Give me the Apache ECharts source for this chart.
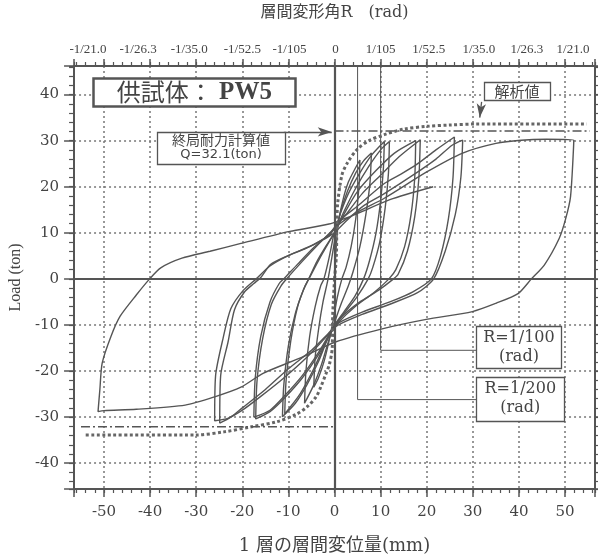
<!DOCTYPE html>
<html><head><meta charset="utf-8">
<script src="https://cdn.jsdelivr.net/npm/echarts@6/dist/echarts.min.js"></script>
<style>html,body{margin:0;padding:0;background:#fff}#c{width:598px;height:560px}</style>
</head><body><div id="c"></div>
<script>
// ---------------- data ----------------
const xTickValues = [-50,-40,-30,-20,-10,0,10,20,30,40,50];
const topTickLabels = ['-1/21.0','-1/26.3','-1/35.0','-1/52.5','-1/105','0','1/105','1/52.5','1/35.0','1/26.3','1/21.0'];

// hysteresis cycles [displacement mm, load ton]
const loop5a = [[0,0],[0.3,6],[0.8,12],[1.8,17],[3,21],[4.5,24],[5.5,25.8],
  [5.3,20],[4.6,13],[3.6,7],[2.5,2.5],[1.6,0],[0.6,-4],[-0.3,-9],[-1.2,-13.5],[-2.3,-18],[-3.5,-21.5],[-4.5,-23.5],
  [-4.2,-17],[-3.4,-10.5],[-2.5,-5],[-1.5,-0.5],[-0.6,4.5],[0.2,9.5]];
const loop5b = [[0.2,9.5],[1.3,14.5],[2.8,19],[4.6,23],[6.3,25.6],[8,27.3],
  [7.7,21],[6.8,14],[5.5,7],[4,1.5],[3,-1.5],[1.4,-5.5],[0,-9.5],[-1.3,-13.5],[-2.8,-18.5],[-4.5,-23],[-6.5,-27],
  [-6.2,-20],[-5.4,-12.5],[-4.2,-6],[-3,-1.5],[-2.3,0],[-1.2,4.5],[-0.2,9.5]];
const loop10a = [[-0.2,9.5],[1.2,14],[3,18.5],[5.5,23],[8,26.8],[10.8,29.8],
  [10.6,24],[10,17],[9,10],[7.6,4],[6.3,0],[4.4,-3.8],[2,-7.2],[0,-10],[-1.5,-13],[-3.5,-18],[-6,-23],[-8.5,-27],[-11.3,-29.9],
  [-11,-23],[-10,-14.5],[-8.5,-7.5],[-6.8,-2.5],[-5.6,0],[-3.8,3.8],[-1.8,7.2],[0,10]];
const loop10b = [[0,10],[2,14.5],[4.5,19.5],[7.5,24.5],[10,28],[11.9,29.8],
  [11.7,23],[11,15.5],[9.8,8],[8.3,2.5],[7.3,0],[4.8,-4],[2.2,-7.3],[0,-10.3],[-2,-14],[-4.5,-19.5],[-7.5,-25],[-10.8,-29.3],
  [-10.5,-22],[-9.5,-13.5],[-8,-6],[-6.5,-1.8],[-5.3,0.5],[-3.3,4.3],[-1.3,7.8],[0.3,10.5]];
const loop17a = [[0.3,10.5],[2.3,14.5],[5,19],[9,23.5],[13,27.3],[17.6,30],
  [17.4,22],[16.6,14],[15.2,7],[13.3,2],[11.8,0],[8.5,-3],[4.5,-6],[1,-9.3],[-1,-12],[-3.5,-16.5],[-7,-21.5],[-11,-26],[-14,-28.8],[-17.1,-30.4],
  [-16.8,-22],[-15.6,-13],[-13.7,-5.5],[-11.6,-1.5],[-10.4,0],[-7,3.8],[-3.5,7.5],[-0.5,10.5]];
const loop17b = [[-0.5,10.5],[2.5,14],[6,18.5],[10,22.5],[14,26.5],[18.6,30.2],
  [18.3,22],[17.4,13.5],[15.8,6],[13.8,1],[12.8,0],[9.5,-2.5],[5.5,-5],[1.5,-8.3],[-0.8,-11.5],[-3.5,-16],[-7,-21],[-10.5,-25],[-14,-28.5],[-17.5,-30],
  [-17.2,-21.5],[-16,-12.5],[-14,-5],[-12,-1],[-11,0],[-8,3.2],[-4.5,6.8],[-1,9.8]];
const loop26a = [[-1,9.8],[1.5,13],[5,15.8],[10.8,20.7],[14.5,22.8],[17.9,24.9],[22,28],[26,30.8],
  [25.7,22],[24.7,13],[23,5],[21,0],[17,-2.8],[12,-5],[6,-7.2],[1,-9.5],[-1.5,-12],[-5,-15.5],[-10,-19.5],[-15,-24],[-20,-28],[-22.5,-30],[-24.9,-31.3],
  [-24.7,-21],[-23.1,-13.7],[-21.7,-6.7],[-19.5,-2.8],[-17.5,-1],[-16,0.3],[-13.9,3.1],[-10.4,4.9],[-6.2,6.6],[-2.5,8.5],[0,10]];
const loop26b = [[0,10],[3,13],[6.5,16],[10.8,18.5],[17,22.5],[22,26],[25.5,29],[27.8,30.1],
  [27.4,22],[26.2,14],[24,6],[21.5,0],[18,-3],[12,-5.5],[6,-7.7],[0.5,-10.2],[-2,-12.8],[-6,-17],[-11,-21.5],[-16,-25.5],[-20,-28.5],[-23,-30.2],[-26,-30.8],
  [-25.8,-21],[-24.2,-13],[-22.5,-6.5],[-19.8,-2.5],[-17,0],[-14,2.8],[-9.7,5.2],[-5,7.2],[-1,9.5]];
const loop52 = [[-1,9.5],[0.5,11.5],[5,14.5],[10.8,17.5],[20,23.2],[27.8,27.3],[35,29.4],[40.5,30.1],[46,30.3],[51.9,30.1],
  [51.2,17.9],[50.1,12.9],[48.7,8.7],[45.5,3],[42.7,0],[39.8,-3.2],[35,-5.3],[29.9,-7.1],[19.9,-8.8],[10.1,-10.9],[0.2,-13.7],[-7,-17],[-15.5,-20.5],[-20.3,-23.5],[-26,-25.6],[-32.4,-27.4],[-43,-28.3],[-50,-28.6],[-51.3,-28.8],
  [-50.9,-24],[-50.4,-18.3],[-48.5,-12.5],[-46.5,-8.1],[-43,-3.5],[-40.1,0],[-37.7,2.4],[-33.1,4.5],[-27,6],[-20.3,7.7],[-9.7,10.3],[-1.2,11.9],[5,14.2],[12,17.2],[21.4,20]];

// analysis (解析値) envelope
const analysisPos = [[0,0],[0.4,5],[0.5,12],[0.7,16.5],[1.6,22.5],[2.8,25.2],[5,28.2],[7.5,30],[10.8,31.3],[15,32.5],[20,33.1],[25,33.4],[30.6,33.6],[54.7,33.6]];
const analysisNeg = [[0,0],[-0.4,-8],[-0.5,-15],[-1.1,-18.5],[-1.9,-20.7],[-3,-23.5],[-4,-25.6],[-6,-27.8],[-8.3,-29.4],[-12.5,-31],[-18,-32.1],[-24,-33.2],[-30.2,-33.9],[-54.4,-33.9]];

// ultimate strength calculation Q = 32.1 ton
const qCalc = 32.1;
const qCalcPos = [[0,qCalc],[55.4,qCalc]];
const qCalcNeg = [[-55,-qCalc],[0,-qCalc]];

// leader lines for drift-angle markers
const leader100 = [[10,46.2],[10,-15.5],[31,-15.5]];
const leader200 = [[5,46.2],[5,-26.2],[31,-26.2]];

// annotation anchors (data coords)
const annoSpecimen = [-30.4, 40.5];
const annoQcalc = [-24.6, 28.5];
const annoAnalysis = [39.6, 40.7];
const annoR100 = [40, -14.8];
const annoR200 = [40.3, -26];
const arrowQ = [[-11, qCalc - 0.2], [-0.6, qCalc - 0.2]];
const arrowAnalysis = [[31.9, 38.4], [31.5, 35]];

// ---------------- style ----------------
const INK = '#555';
const TXT = '#444';
const topLabelShift = [-16,-12,-7,0,1,1,0,2,6,8,8];
const serif = "'DejaVu Serif','Noto Sans CJK JP'";
const cjk = "'Noto Sans CJK JP'";
const topRich = {};
topLabelShift.forEach((d,i)=>{
  topRich['s'+i] = {padding: d<0 ? [0,-2*d,0,0] : [0,0,0,2*d], fontFamily:"'Liberation Serif'", fontSize:13, color:TXT};
});
const isMult = (v,m)=>Math.abs(v - Math.round(v/m)*m) < 1e-6;
const gridLine = {show:true, lineStyle:{type:[2,3], color:'#777', width:1.5}};
const XMIN=-56.5, XMAX=56.5, YMIN=-45.6, YMAX=46.2;

function mainX(pos, extra){
  return Object.assign({type:'value', position:pos, min:XMIN, max:XMAX, splitNumber:11, minInterval:10, maxInterval:10,
    axisLine:{show:true, onZero:false, lineStyle:{color:INK, width:2}},
    axisTick:{show:true, inside:false, length:8, lineStyle:{color:INK, width:1.5}},
    splitLine:{show:false}}, extra);
}
function minorX(pos){
  return {type:'value', position:pos, min:XMIN, max:XMAX, splitNumber:56, minInterval:2, maxInterval:2,
    axisLine:{show:false, onZero:false}, axisTick:{show:true, length:4, lineStyle:{color:INK, width:1.2}},
    axisLabel:{show:false}, splitLine:{show:false}};
}
function mainY(pos, extra){
  return Object.assign({type:'value', position:pos, min:YMIN, max:YMAX, splitNumber:9, minInterval:10, maxInterval:10,
    axisLine:{show:true, onZero:false, lineStyle:{color:INK, width:2}},
    axisTick:{show:true, inside:false, length:10, lineStyle:{color:INK, width:1.5}},
    splitLine:{show:false}}, extra);
}
function minorY(pos){
  return {type:'value', position:pos, min:YMIN, max:YMAX, splitNumber:46, minInterval:2, maxInterval:2,
    axisLine:{show:false, onZero:false}, axisTick:{show:true, length:5, lineStyle:{color:INK, width:1.2}},
    axisLabel:{show:false}, splitLine:{show:false}};
}

const loopStyle = {color:INK, width:1.4};
function loopSeries(name, data){
  return {name, type:'line', data, showSymbol:false, smooth:0.25, lineStyle:loopStyle, silent:true, z:3};
}
// text boxes: rectangle + text centred on a data-coordinate anchor
function boxSeries(pos, w, h, text, rich, bw){
  return {type:'custom', data:[pos], silent:true, z:10, clip:false,
    renderItem:(params, api)=>{
      const c = api.coord([api.value(0), api.value(1)]);
      return {type:'group', children:[
        {type:'rect', shape:{x:Math.round(c[0]-w/2)+0.5, y:Math.round(c[1]-h/2)+0.5, width:w, height:h},
          style:{fill:'#fff', stroke:INK, lineWidth:bw||1.3}},
        {type:'text', x:c[0], y:c[1], style:{text, rich, align:'center', verticalAlign:'middle', fill:TXT}}
      ]};
    }};
}

const option = {
  animation:false,
  backgroundColor:'#fff',
  grid:{left:63, right:3, top:63, bottom:62, containLabel:false},
  xAxis:[
    mainX('bottom', {splitLine:gridLine,
      axisLabel:{formatter:v=>isMult(v,10)?String(Math.round(v)):'', fontFamily:serif, fontSize:15, color:TXT, margin:16},
      name:'1 層の層間変位量(mm)', nameLocation:'middle', nameGap:48,
      nameTextStyle:{fontFamily:serif, fontSize:18, color:TXT}}),
    minorX('bottom'),
    mainX('top', {axisTick:{show:true, length:7, lineStyle:{color:INK, width:1.5}},
      axisLabel:{formatter:v=>{const i=xTickValues.findIndex(t=>Math.abs(t-v)<1e-6); return i<0?'':'{s'+i+'|'+topTickLabels[i]+'}';}, rich:topRich, margin:10},
      name:'層間変形角R　(rad)', nameLocation:'middle', nameGap:45,
      nameTextStyle:{fontFamily:serif, fontSize:16, color:TXT}}),
    minorX('top')
  ],
  yAxis:[
    mainY('left', {splitLine:gridLine,
      axisLabel:{formatter:v=>isMult(v,10)?String(Math.round(v)):'', fontFamily:serif, fontSize:15, color:TXT, margin:15},
      name:'Load (ton)', nameLocation:'middle', nameGap:46, nameRotate:90,
      nameTextStyle:{fontFamily:"'Liberation Serif'", fontSize:16, color:TXT}}),
    minorY('left'),
    mainY('right', {axisTick:{show:true, length:6, lineStyle:{color:INK, width:1.5}}, axisLabel:{show:false}}),
    minorY('right')
  ],
  series:[
    loopSeries('loop5a', loop5a),
    loopSeries('loop5b', loop5b),
    loopSeries('loop10a', loop10a),
    loopSeries('loop10b', loop10b),
    loopSeries('loop17a', loop17a),
    loopSeries('loop17b', loop17b),
    loopSeries('loop26a', loop26a),
    loopSeries('loop26b', loop26b),
    loopSeries('loop52', loop52),
    {name:'解析値+', type:'line', data:analysisPos, showSymbol:false, smooth:0.3, silent:true, z:4,
      lineStyle:{color:'#666', width:3, type:[3,2.5]}},
    {name:'解析値-', type:'line', data:analysisNeg, showSymbol:false, smooth:0.3, silent:true, z:4,
      lineStyle:{color:'#666', width:3, type:[3,2.5]}},
    {name:'Q+', type:'line', data:qCalcPos, showSymbol:false, silent:true, z:4,
      lineStyle:{color:INK, width:1.5, type:[9,3,2,3]},
      markLine:{silent:true, symbol:['none','none'], label:{show:false}, animation:false,
        lineStyle:{color:INK, width:2.2, type:'solid'},
        data:[{xAxis:0},{yAxis:0}]}},
    {name:'Q-', type:'line', data:qCalcNeg, showSymbol:false, silent:true, z:4,
      lineStyle:{color:INK, width:1.5, type:[9,3,2,3]},
      markLine:{silent:true, symbol:['none','arrow'], symbolSize:[7,14], label:{show:false}, animation:false,
        lineStyle:{color:INK, width:1.3, type:'solid'},
        data:[[{coord:arrowQ[0]},{coord:arrowQ[1]}],[{coord:arrowAnalysis[0]},{coord:arrowAnalysis[1]}]]}},
    {name:'R100', type:'line', data:leader100, showSymbol:false, silent:true, z:2, lineStyle:{color:INK, width:1}},
    {name:'R200', type:'line', data:leader200, showSymbol:false, silent:true, z:2, lineStyle:{color:INK, width:1}},
    boxSeries(annoSpecimen, 202, 28, '{a|供試体}{b|：}{c| PW5}',
      {a:{fontFamily:cjk, fontSize:24, color:TXT}, b:{fontFamily:cjk, fontSize:24, color:TXT},
       c:{fontFamily:"'Liberation Serif'", fontWeight:'bold', fontSize:25, color:TXT}}, 2.5),
    boxSeries(annoQcalc, 128, 32, '{a|終局耐力計算値}\n{b|Q=32.1(ton)}',
      {a:{fontFamily:cjk, fontSize:14, lineHeight:15, color:TXT, align:'center'}, b:{fontFamily:"'DejaVu Sans'", fontSize:13, lineHeight:15, color:TXT, align:'center'}}),
    boxSeries(annoAnalysis, 66, 18, '{a|解析値}', {a:{fontFamily:cjk, fontSize:15, lineHeight:17, color:TXT, align:'center'}}),
    boxSeries(annoR100, 85, 42, '{a|R=1/100}\n{a|(rad)}', {a:{fontFamily:"'DejaVu Serif'", fontSize:16, lineHeight:19, color:TXT, align:'center'}}),
    boxSeries(annoR200, 88, 44, '{a|R=1/200}\n{a|(rad)}', {a:{fontFamily:"'DejaVu Serif'", fontSize:16, lineHeight:19, color:TXT, align:'center'}})
  ]
};
const chart = echarts.init(document.getElementById('c'), null, {renderer:'canvas'});
chart.setOption(option);
</script>
</body></html>
